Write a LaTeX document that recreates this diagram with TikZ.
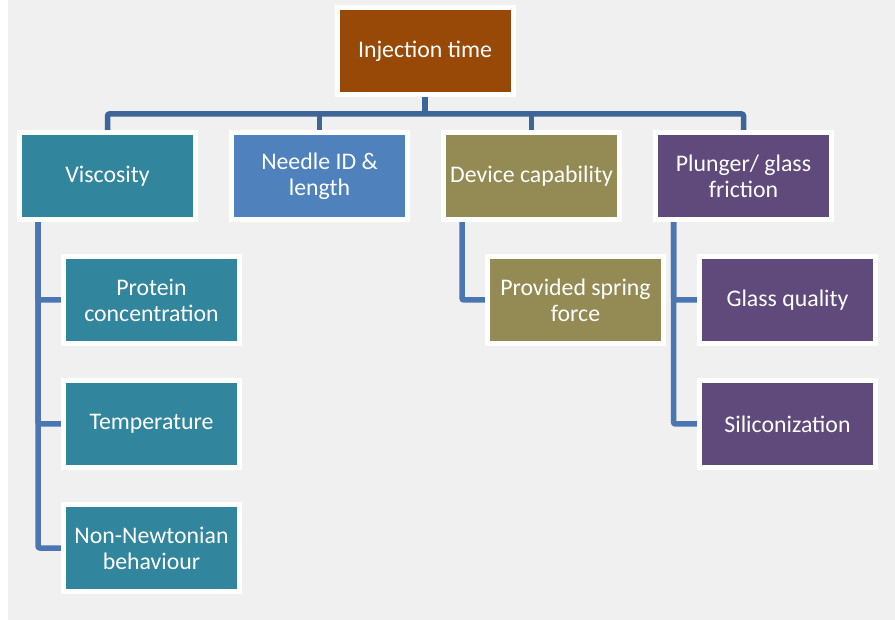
\documentclass[tikz,border=0pt]{standalone}
\usepackage{fontspec}
\setmainfont{Carlito}
\usetikzlibrary{positioning,backgrounds}
\definecolor{panel}{HTML}{F0F0F0}
\definecolor{rootbrown}{HTML}{984807}
\definecolor{viscteal}{HTML}{31859C}
\definecolor{needleblue}{HTML}{4F81BD}
\definecolor{deviceolive}{HTML}{948A54}
\definecolor{plungerpurple}{HTML}{604A7B}
\definecolor{busblue}{HTML}{3E6597}
\definecolor{linkblue}{HTML}{4A76B1}
\begin{document}
\begin{tikzpicture}[x=1pt, y=-1pt, node distance=37pt and 36pt,
    box/.style={rectangle, draw=white, line width=5pt, minimum width=176pt, minimum height=87pt,
        inner sep=2pt, outer sep=0pt, align=center, text=white, font=\fontsize{23.8}{26}\selectfont},
    bus/.style={draw=busblue, line width=5.5pt, rounded corners=2pt},
    link/.style={draw=linkblue, line width=5.5pt, rounded corners=2pt}]
    \useasboundingbox (0,0) rectangle (895,620);

    \node[box, fill=rootbrown] (root) at (425,51.5) {Injection time};
    \node[box, fill=viscteal] (visc) at (107.5,176) {Viscosity};
    \node[box, fill=needleblue, right=of visc] (needle) {Needle ID \&\\length};
    \node[box, fill=deviceolive, right=of needle] (device) {Device capability};
    \node[box, fill=plungerpurple, right=of device] (plunger) {Plunger/ glass\\friction};

    \node[box, fill=viscteal, below=of visc, xshift=44pt] (protein) {Protein\\concentration};
    \node[box, fill=viscteal, below=of protein] (temp) {Temperature};
    \node[box, fill=viscteal, below=of temp] (newton) {Non-Newtonian\\behaviour};
    \node[box, fill=deviceolive, below=of device, xshift=44pt] (spring) {Provided spring\\force};
    \node[box, fill=plungerpurple, below=of plunger, xshift=44pt] (glass) {Glass quality};
    \node[box, fill=plungerpurple, below=of glass] (silicon) {Siliconization};

    \coordinate (bus) at (425,114);
    \begin{scope}[on background layer]
        \fill[panel] (8,0) rectangle (895,620);
        \draw[bus] (root.south) -- (root.south |- bus);
        \draw[bus] (visc.north) -- (visc.north |- bus) -- (plunger.north |- bus) -- (plunger.north);
        \foreach \n in {needle, device}
            \draw[bus] (\n.north) -- (\n.north |- bus);
        \foreach \n in {protein, temp, newton}
            \draw[link] ([xshift=18.5pt]visc.south west) |- (\n.west);
        \draw[link] ([xshift=18.5pt]device.south west) |- (spring.west);
        \foreach \n in {glass, silicon}
            \draw[link] ([xshift=18pt]plunger.south west) |- (\n.west);
    \end{scope}
\end{tikzpicture}
\end{document}
